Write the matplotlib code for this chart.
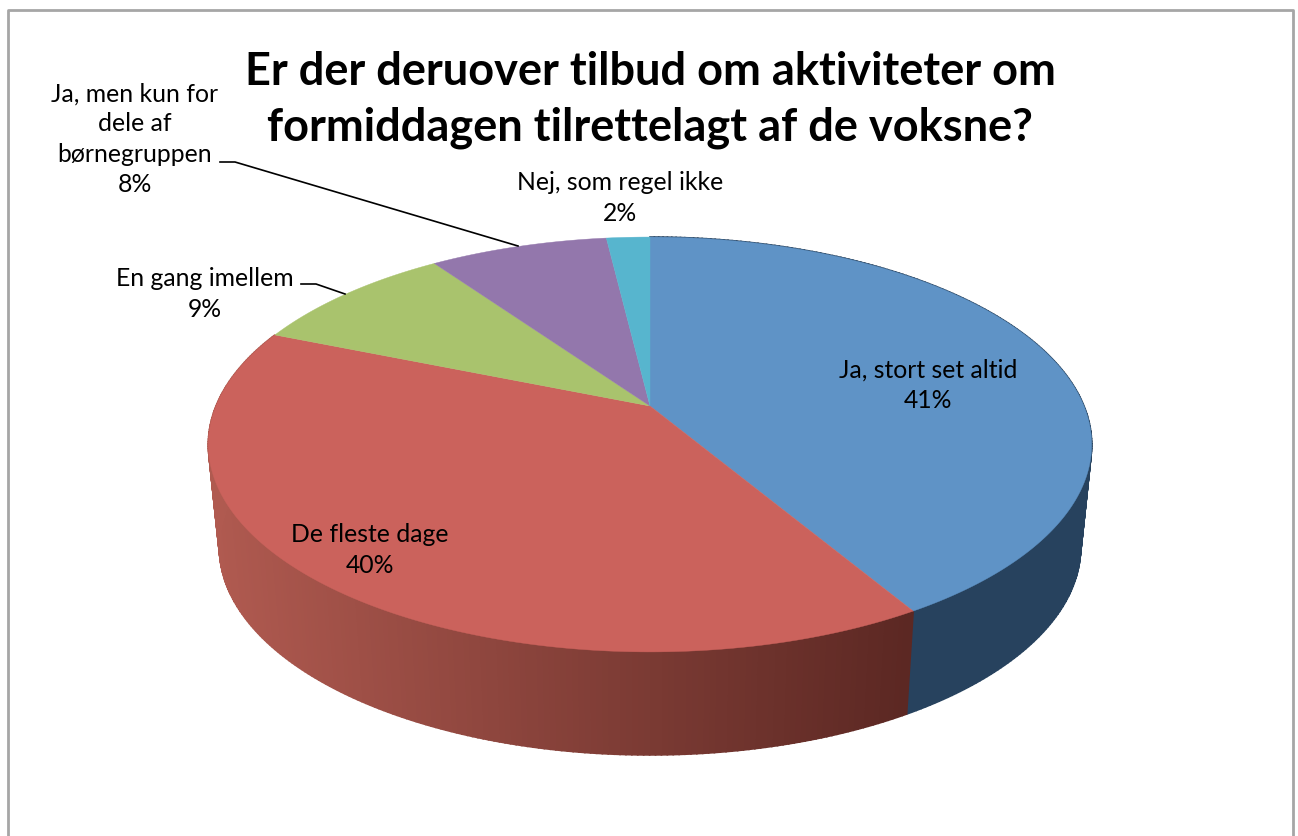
#!/usr/bin/env python3
# -*- coding: utf-8 -*-
import numpy as np
import matplotlib
matplotlib.use('Agg')
import matplotlib.pyplot as plt

plt.rcParams['font.family'] = ['Lato', 'DejaVu Sans']

categories = ['Ja, stort set altid', 'De fleste dage', 'En gang imellem',
              'Ja, men kun for\ndele af\nbørnegruppen', 'Nej, som regel ikke']
values = [41.49, 39.71, 9.1, 7.8, 1.9]
colors = ['#5F93C6', '#CB625C', '#A9C36D', '#9377AC', '#57B5CE']
title = 'Er der deruover tilbud om aktiviteter om\nformiddagen tilrettelagt af de voksne?'


def project(t):
    # angle clockwise from the top of the pie -> pixel position on the top face
    px = np.sin(t)
    py = np.cos(t)
    k = 0.1855
    return 650 + 434 * px / (1 + k * py), 407 - 200.3 * py / (1 + k * py)


def project_low(t):
    x, y = project(t)
    return 650 + 0.975 * (x - 650), y + 103


def mix(c1, c2, f):
    return tuple((a + (b - a) * f) / 255 for a, b in zip(c1, c2))


fig = plt.figure(figsize=(12.98, 8.37), dpi=100)
ax = fig.add_axes([0, 0, 1, 1])
ax.set_xlim(0, 1298)
ax.set_ylim(837, 0)
ax.axis('off')

# chart frame, runs off the bottom of the picture
ax.plot([7.5, 7.5, 1292.5, 1292.5], [837, 10.5, 10.5, 837], color='#A6A6A6', lw=2)

edges = np.cumsum([0] + values) / 100 * 2 * np.pi

# side wall in strips, blue one flat, red one with left to right shading
for i in [0, 1]:
    ts = np.linspace(edges[i], edges[i + 1], 220)
    for a, b in zip(ts[:-1], ts[1:]):
        x1, y1 = project(a)
        x2, y2 = project(b)
        x3, y3 = project_low(b)
        x4, y4 = project_low(a)
        if i == 0:
            c = '#27425E'
        else:
            f = np.clip((905 - (x1 + x4) / 2) / 690, 0, 1)
            c = mix((92, 40, 35), (176, 90, 80), f)
        ax.fill([x1, x2, x3, x4], [y1, y2, y3, y4], color=c, lw=1.2, zorder=2)

# top face
for i in range(len(values)):
    ts = np.linspace(edges[i], edges[i + 1], 200)
    x, y = project(ts)
    ax.fill(np.r_[650, x], np.r_[407, y], color=colors[i], lw=0.3, zorder=3)

ax.text(650, 100, title, ha='center', va='center', fontsize=32.5, fontweight='bold',
        color='black', linespacing=1.38, zorder=5)

pct = [str(int(round(v))) + '%' for v in values]
label_x = [928, 370, 205, 135, 620]
label_y = [385, 550, 294, 139, 198]
for i in range(len(values)):
    ax.text(label_x[i], label_y[i], categories[i] + '\n' + pct[i], ha='center', va='center',
            fontsize=17.8, color='black', linespacing=1.38, zorder=5)

# leader lines
ax.plot([220, 235, 518], [163, 163, 247], color='black', lw=1.2, zorder=4)
ax.plot([301, 316, 345], [285, 285, 295], color='black', lw=1.2, zorder=4)

fig.savefig('out.png', dpi=100)
